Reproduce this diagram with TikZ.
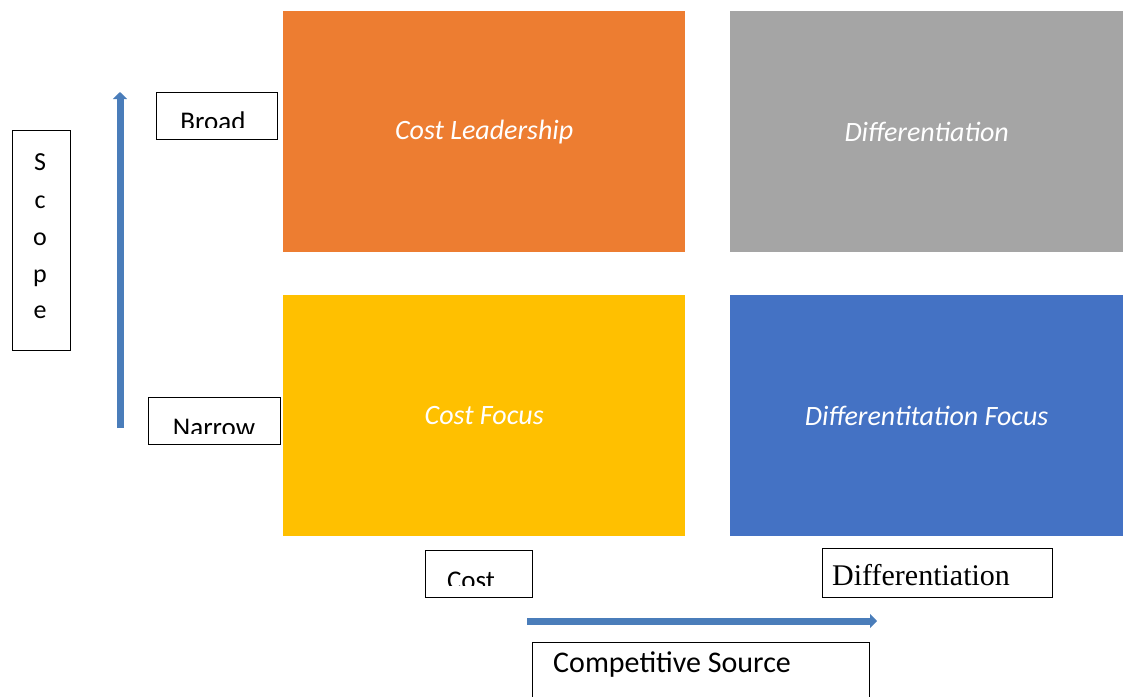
\documentclass[tikz,border=0pt]{standalone}
\usepackage{fontspec}
\setmainfont{Carlito}
\newfontfamily\timesface{Liberation Serif}
\usetikzlibrary{arrows.meta}

\definecolor{costorange}{HTML}{ED7D31}
\definecolor{diffgray}{HTML}{A5A5A5}
\definecolor{focusyellow}{HTML}{FFC000}
\definecolor{focusblue}{HTML}{4472C4}
\definecolor{axisblue}{HTML}{4A7DBA}

\begin{document}
\begin{tikzpicture}[x=1pt,y=-1pt,
  quad/.style={rectangle, inner sep=0pt, anchor=north west,
    minimum width=#1, text=white,
    font=\fontsize{28}{34}\selectfont\itshape},
  tag/.style={rectangle, draw=black, line width=1.3pt, inner sep=0pt,
    anchor=north west, fill=white},
  tagtext/.style={inner sep=0pt, font=\fontsize{27}{32}\selectfont},
  axis/.style={draw=axisblue, line width=7pt,
    -{Triangle[width=14pt,length=7pt]}}]
\useasboundingbox (0,0) rectangle (1123,696);

% strategy quadrants
\node[quad=402pt, minimum height=241pt, fill=costorange] (cl) at (283,11) {Cost Leadership};
\node[quad=393pt, minimum height=241pt, fill=diffgray] (df) at (730,11) {Differentiation};
\node[quad=402pt, minimum height=241pt, fill=focusyellow] (cf) at (283,295) {Cost Focus};
\node[quad=393pt, minimum height=241pt, fill=focusblue] (dff) at (730,295) {Differentitation Focus};

% scope label
\node[tag, minimum width=58pt, minimum height=220pt] (scope) at (12,130) {};
\foreach \ch/\yy [count=\i] in {S/170,c/208,o/245,p/282,e/318}
  \node[inner sep=0pt, anchor=base, font=\fontsize{26}{30}\selectfont] (scope\i) at (40,\yy) {\ch};

% vertical scope axis
\coordinate (vbot) at (120,428);
\coordinate (vtop) at (120,92);
\draw[axis] (vbot) -- (vtop);

% broad / narrow tags (text clipped by the box)
\node[tag, minimum width=121pt, minimum height=47pt] (broad) at (156,92) {};
\begin{scope}
  \clip (157,93) rectangle (276,127.5);
  \node[tagtext, anchor=base] (broadtxt) at (213,130.5) {Broad};
\end{scope}

\node[tag, minimum width=132pt, minimum height=47pt] (narrow) at (148,397) {};
\begin{scope}
  \clip (149,398) rectangle (279,433);
  \node[tagtext, anchor=base] (narrowtxt) at (214,436) {Narrow};
\end{scope}

% competitive source tags
\node[tag, minimum width=107pt, minimum height=47pt] (cost) at (425,550) {};
\begin{scope}
  \clip (426,551) rectangle (531,585);
  \node[tagtext, anchor=base] (costtxt) at (471,589) {Cost};
\end{scope}

\node[tag, minimum width=230pt, minimum height=49pt] (diff) at (822,548) {};
\node[inner sep=0pt, anchor=base west, font=\timesface\fontsize{30}{34}\selectfont] (difftxt) at (832,585) {Differentiation};

% horizontal source axis
\coordinate (hstart) at (527,621);
\coordinate (hend) at (877,621);
\draw[axis] (hstart) -- (hend);

\node[tag, minimum width=337pt, minimum height=60pt] (source) at (532,642) {};
\node[inner sep=0pt, anchor=base west, font=\fontsize{30}{34}\selectfont] (sourcetxt) at (553,672) {Competitive Source};
\end{tikzpicture}
\end{document}
